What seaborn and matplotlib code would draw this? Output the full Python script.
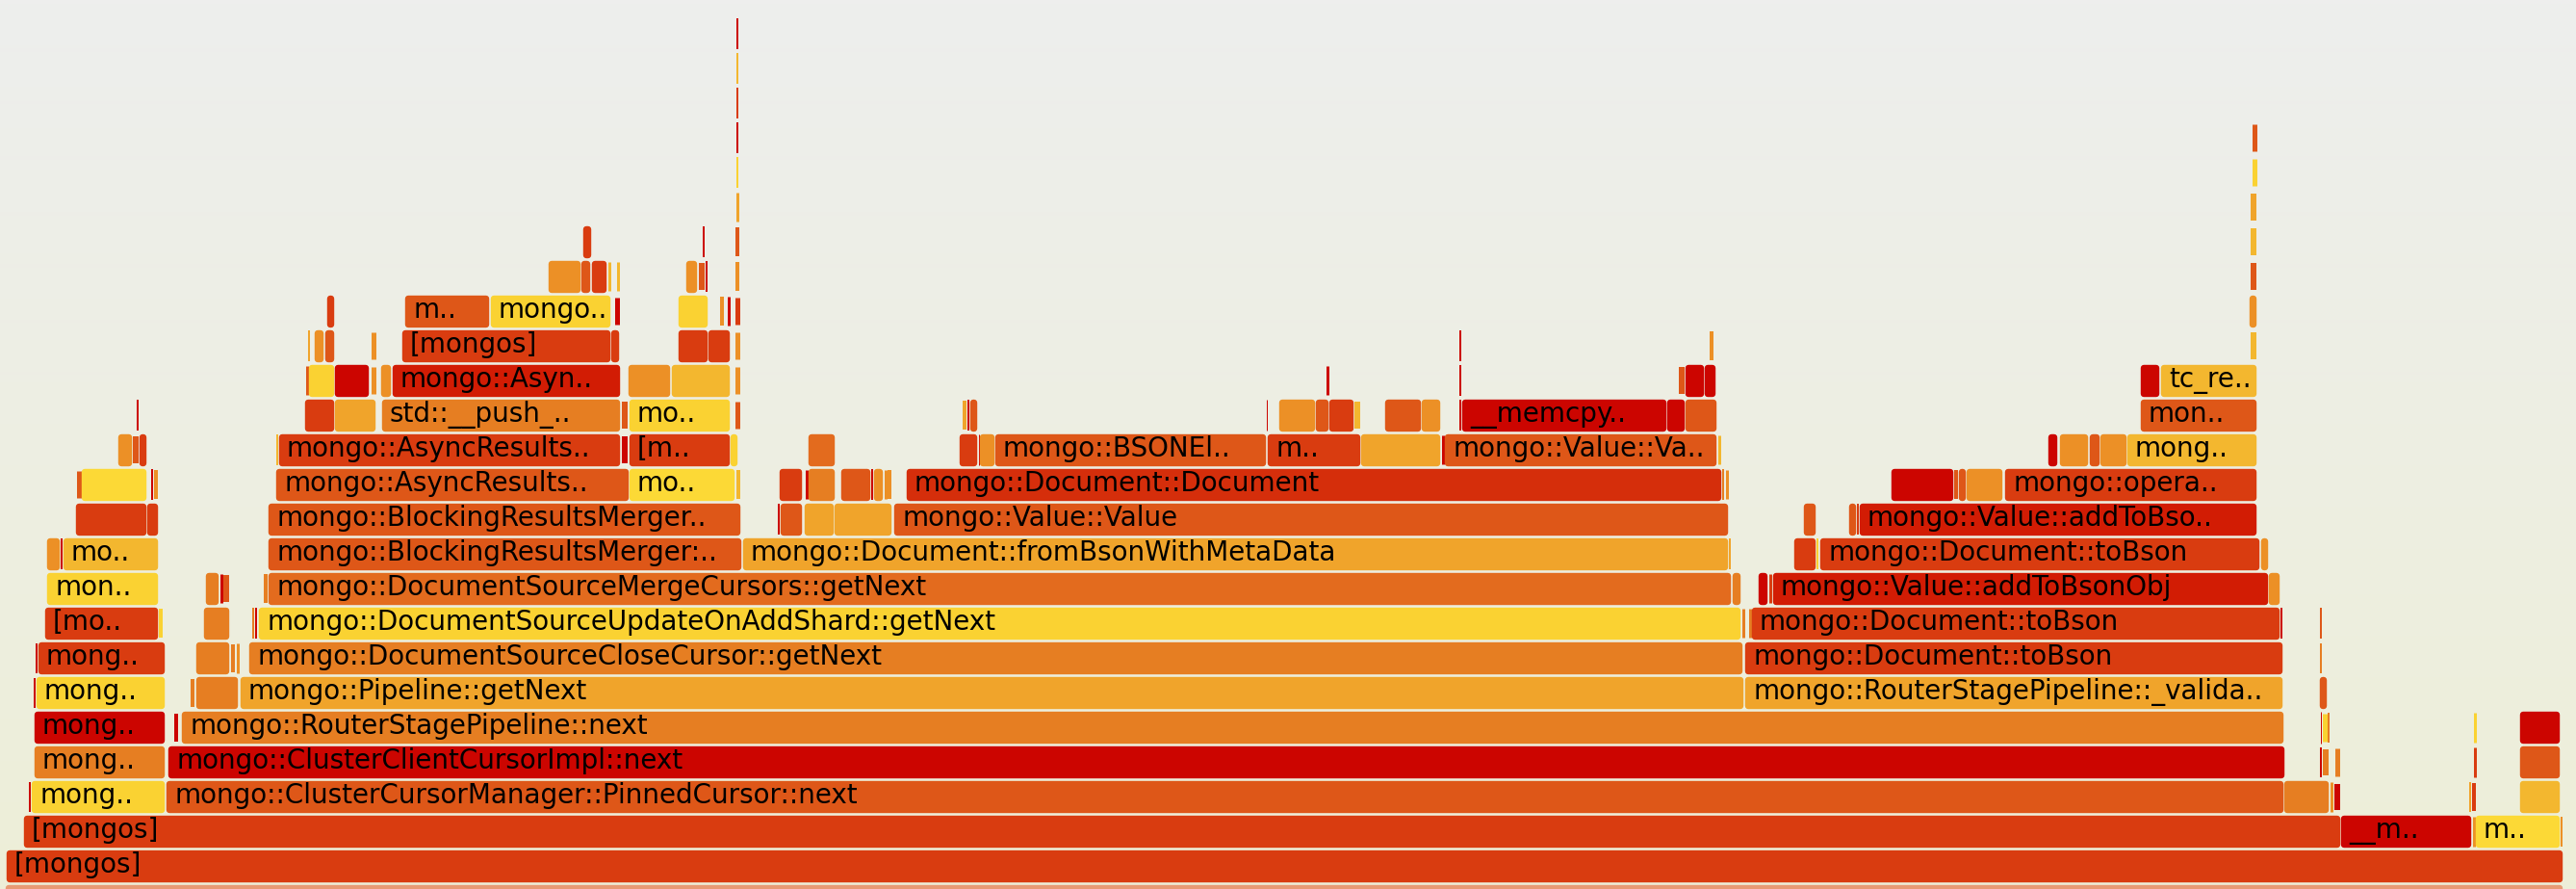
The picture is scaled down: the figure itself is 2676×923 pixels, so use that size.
import numpy as np
import pandas as pd
import matplotlib
matplotlib.use("Agg")
import matplotlib.pyplot as plt
import seaborn as sns

# ---- data: one list per stack depth: (first sample, last sample, frame label, tone) ----
ROW_00 = [(6, 2662, "", "p")]
ROW_01 = [(7, 2662, "[mongos]", "r")]
ROW_02 = [(25, 2431, "[mongos]", "r"), (2432, 2567, "__m..", "R"), (2568, 2571, "", "O"),
          (2572, 2659, "m..", "Y"), (2660, 2662, "", "O")]
ROW_03 = [(30, 32, "", "R"), (33, 171, "mong..", "y"),
          (173, 2372, "mongo::ClusterCursorManager::PinnedCursor::next", "d"),
          (2373, 2419, "", "o"), (2420, 2423, "", "O"), (2425, 2431, "", "R"),
          (2565, 2567, "", "a"), (2568, 2572, "", "r"), (2618, 2659, "", "A")]
ROW_04 = [(36, 171, "mong..", "o"), (175, 2373, "mongo::ClusterClientCursorImpl::next", "R"),
          (2410, 2412, "", "R"), (2413, 2419, "", "o"), (2425, 2430, "", "o"),
          (2569, 2572, "", "r"), (2618, 2659, "", "d")]
ROW_05 = [(36, 171, "mong..", "R"), (181, 185, "", "R"),
          (189, 2372, "mongo::RouterStagePipeline::next", "o"),
          (2410, 2411, "", "R"), (2412, 2417, "", "y"), (2418, 2420, "", "o"),
          (2569, 2572, "", "y"), (2618, 2659, "", "R")]
ROW_06 = [(35, 37, "", "R"), (38, 171, "mong..", "y"), (198, 202, "", "o"), (204, 247, "", "o"),
          (250, 1811, "mongo::Pipeline::getNext", "a"),
          (1813, 2371, "mongo::RouterStagePipeline::_valida..", "a"), (2410, 2417, "", "d")]
ROW_07 = [(37, 39, "", "R"), (40, 171, "mong..", "r"), (204, 238, "", "o"), (240, 244, "", "o"),
          (245, 248, "", "O"), (259, 1810, "mongo::DocumentSourceCloseCursor::getNext", "o"),
          (1813, 2371, "mongo::Document::toBson", "r"), (2410, 2412, "", "o")]
ROW_08 = [(47, 164, "[mo..", "r"), (165, 169, "", "y"), (212, 238, "", "o"), (262, 264, "", "o"),
          (265, 267, "", "R"), (269, 1808, "mongo::DocumentSourceUpdateOnAddShard::getNext", "y"),
          (1809, 1812, "", "o"), (1816, 1819, "", "o"),
          (1820, 2368, "mongo::Document::toBson", "r"), (2369, 2371, "", "R"), (2410, 2412, "", "d")]
ROW_09 = [(49, 164, "mon..", "y"), (214, 227, "", "o"), (228, 231, "", "R"), (232, 238, "", "d"),
          (274, 278, "", "o"), (279, 1798, "mongo::DocumentSourceMergeCursors::getNext", "D"),
          (1800, 1808, "", "o"), (1827, 1836, "", "R"), (1837, 1840, "", "r"),
          (1842, 2356, "mongo::Value::addToBsonObj", "S"), (2357, 2368, "", "O")]
ROW_10 = [(49, 62, "", "O"), (63, 65, "", "R"), (66, 164, "mo..", "A"),
          (279, 770, "mongo::BlockingResultsMerger:..", "d"),
          (772, 1795, "mongo::Document::fromBsonWithMetaData", "a"), (1796, 1798, "", "a"),
          (1864, 1886, "", "r"), (1887, 1889, "", "y"),
          (1891, 2347, "mongo::Document::toBson", "r"), (2349, 2356, "", "O")]
ROW_11 = [(79, 152, "", "r"), (153, 164, "", "r"), (279, 769, "mongo::BlockingResultsMerger..", "d"),
          (808, 810, "", "R"), (811, 833, "", "d"), (836, 866, "", "a"), (867, 926, "", "a"),
          (929, 1795, "mongo::Value::Value", "d"), (1874, 1886, "", "d"), (1921, 1928, "", "d"),
          (1929, 1931, "", "r"), (1932, 2344, "mongo::Value::addToBso..", "S")]
ROW_12 = [(79, 84, "", "d"), (85, 152, "", "Y"), (157, 159, "", "R"), (160, 164, "", "O"),
          (287, 653, "mongo::AsyncResults..", "d"), (654, 763, "mo..", "Y"), (765, 769, "", "A"),
          (810, 833, "", "r"), (836, 839, "", "R"), (840, 867, "", "o"), (874, 904, "", "d"),
          (905, 907, "", "R"), (908, 917, "", "O"), (918, 921, "", "O"), (922, 926, "", "O"),
          (942, 1788, "mongo::Document::Document", "q"), (1789, 1791, "", "o"), (1792, 1795, "", "O"),
          (1965, 2029, "", "R"), (2030, 2034, "", "d"), (2035, 2042, "", "d"), (2043, 2080, "", "O"),
          (2083, 2344, "mongo::opera..", "r")]
ROW_13 = [(123, 137, "", "O"), (138, 144, "", "d"), (145, 152, "", "r"), (287, 289, "", "A"),
          (290, 644, "mongo::AsyncResults..", "r"), (646, 652, "", "R"), (654, 758, "[m..", "r"),
          (759, 766, "", "y"), (840, 867, "", "D"), (997, 1015, "", "r"), (1016, 1017, "", "R"),
          (1018, 1033, "", "O"), (1034, 1315, "mongo::BSONEl..", "d"), (1317, 1413, "m..", "r"),
          (1414, 1496, "", "a"), (1497, 1500, "", "R"), (1501, 1783, "mongo::Value::Va..", "d"),
          (1784, 1787, "", "A"), (2128, 2137, "", "R"), (2140, 2169, "", "O"), (2171, 2181, "", "d"),
          (2182, 2209, "", "O"), (2210, 2344, "mong..", "A")]
ROW_14 = [(142, 144, "", "R"), (317, 347, "", "r"), (348, 390, "", "a"),
          (397, 644, "std::__push_..", "o"), (646, 652, "", "d"), (654, 758, "mo..", "y"),
          (763, 768, "", "d"), (1000, 1004, "", "a"), (1005, 1007, "", "R"), (1008, 1015, "", "d"),
          (1315, 1316, "", "R"), (1329, 1366, "", "O"), (1367, 1380, "", "d"), (1381, 1406, "", "r"),
          (1407, 1413, "", "A"), (1439, 1476, "", "d"), (1477, 1496, "", "O"), (1516, 1518, "", "R"),
          (1519, 1731, "__memcpy..", "R"), (1732, 1750, "", "R"), (1751, 1783, "", "d"),
          (2224, 2344, "mon..", "d")]
ROW_15 = [(317, 320, "", "d"), (321, 347, "", "y"), (348, 383, "", "R"), (385, 390, "", "O"),
          (396, 406, "", "O"), (408, 644, "mongo::Asyn..", "S"), (653, 696, "", "O"),
          (698, 758, "", "A"), (763, 768, "", "O"), (1377, 1380, "", "R"), (1516, 1518, "", "R"),
          (1744, 1750, "", "d"), (1751, 1770, "", "R"), (1771, 1782, "", "R"),
          (2224, 2243, "", "R"), (2245, 2344, "tc_re..", "A")]
ROW_16 = [(320, 322, "", "a"), (327, 336, "", "O"), (338, 347, "", "d"), (385, 390, "", "O"),
          (418, 634, "[mongos]", "r"), (635, 643, "", "r"), (705, 735, "", "r"), (736, 758, "", "r"),
          (763, 768, "", "O"), (1516, 1518, "", "R"), (1776, 1780, "", "O"), (2338, 2344, "", "A")]
ROW_17 = [(340, 347, "", "r"), (421, 508, "m..", "d"), (510, 634, "mongo..", "y"),
          (638, 643, "", "R"), (705, 735, "", "y"), (748, 752, "", "O"), (755, 758, "", "R"),
          (763, 768, "", "r"), (2337, 2344, "", "O")]
ROW_18 = [(570, 603, "", "O"), (604, 613, "", "d"), (615, 630, "", "r"), (631, 634, "", "A"),
          (640, 643, "", "A"), (713, 724, "", "O"), (726, 732, "", "d"), (733, 735, "", "R"),
          (764, 768, "", "O"), (2338, 2344, "", "d")]
ROW_19 = [(606, 614, "", "r"), (730, 732, "", "R"), (764, 768, "", "d"), (2338, 2344, "", "A")]
ROW_20 = [(764, 767, "", "a"), (2338, 2344, "", "a")]
ROW_21 = [(765, 767, "", "y"), (2339, 2344, "", "y")]
ROW_22 = [(765, 767, "", "R"), (2339, 2344, "", "d")]
ROW_23 = [(765, 767, "", "r")]
ROW_24 = [(765, 767, "", "A")]
ROW_25 = [(765, 767, "", "R")]

ROWS = [ROW_00, ROW_01, ROW_02, ROW_03, ROW_04, ROW_05, ROW_06, ROW_07, ROW_08, ROW_09,
        ROW_10, ROW_11, ROW_12, ROW_13, ROW_14, ROW_15, ROW_16, ROW_17, ROW_18, ROW_19,
        ROW_20, ROW_21, ROW_22, ROW_23, ROW_24, ROW_25]

TONES = {
    "R": "#cc0500", "S": "#d21c04", "q": "#d52e0b", "r": "#d93c10",
    "d": "#de5718", "D": "#e36b1e", "o": "#e67e22", "O": "#ec9026",
    "a": "#f0a42b", "A": "#f3b72f", "y": "#fad232", "Y": "#fcd936",
    "p": "#e89a74",
}

# ---- build table ----
records = []
for depth, row in enumerate(ROWS):
    for lo, hi, label, tone in row:
        records.append(dict(depth=depth, lo=lo, hi=hi, label=label, tone=tone))
df = pd.DataFrame(records)

sns.set_theme(style="white")
plt.rcParams["font.family"] = ["DejaVu Sans"]

W_PX, H_PX, DPI = 2676, 923, 100
PITCH = 36.0      # pixels per stack level
BAR_H = 33.5      # drawn bar height in pixels
RADIUS = 3.2      # corner radius in pixels

fig = plt.figure(figsize=(W_PX / DPI, H_PX / DPI), dpi=DPI)
ax = fig.add_axes([0, 0, 1, 1])
x_lo, x_hi = 0, W_PX
y_lo, y_hi = (952 - H_PX) / PITCH, 952 / PITCH
ax.set_xlim(x_lo, x_hi)
ax.set_ylim(y_lo, y_hi)
ax.set_axis_off()

# background gradient
top = np.array([238, 238, 237]) / 255.0
bot = np.array([237, 238, 216]) / 255.0
t = np.linspace(0, 1, 256)[:, None, None]
grad = top[None, None, :] * (1 - t) + bot[None, None, :] * t
ax.imshow(grad, extent=(x_lo, x_hi, y_lo, y_hi), aspect="auto", zorder=0, origin="upper")

span = (df["hi"] - df["lo"]).astype(float).clip(lower=1.0)
r_eff = np.clip(np.minimum(RADIUS, span / 2.0), 0.5, RADIUS)
left = df["lo"] + r_eff
width = np.maximum(span - 2 * r_eff, 0.01)
height = (BAR_H - 2 * r_eff) / PITCH
ycen = df["depth"] + BAR_H / (2 * PITCH)
colors = [TONES[c] for c in df["tone"]]
lw = 2 * r_eff * 72.0 / DPI

ax.barh(ycen, width, height=height, left=left, color=colors, edgecolor=colors,
        linewidth=lw, joinstyle="round", zorder=2)

for _, f in df[df["label"] != ""].iterrows():
    ax.text(f["lo"] + 8, f["depth"] + 0.285, f["label"], fontsize=20, color="black",
            ha="left", va="baseline", zorder=3, family=["DejaVu Sans"])

fig.savefig("out.png", dpi=DPI)
